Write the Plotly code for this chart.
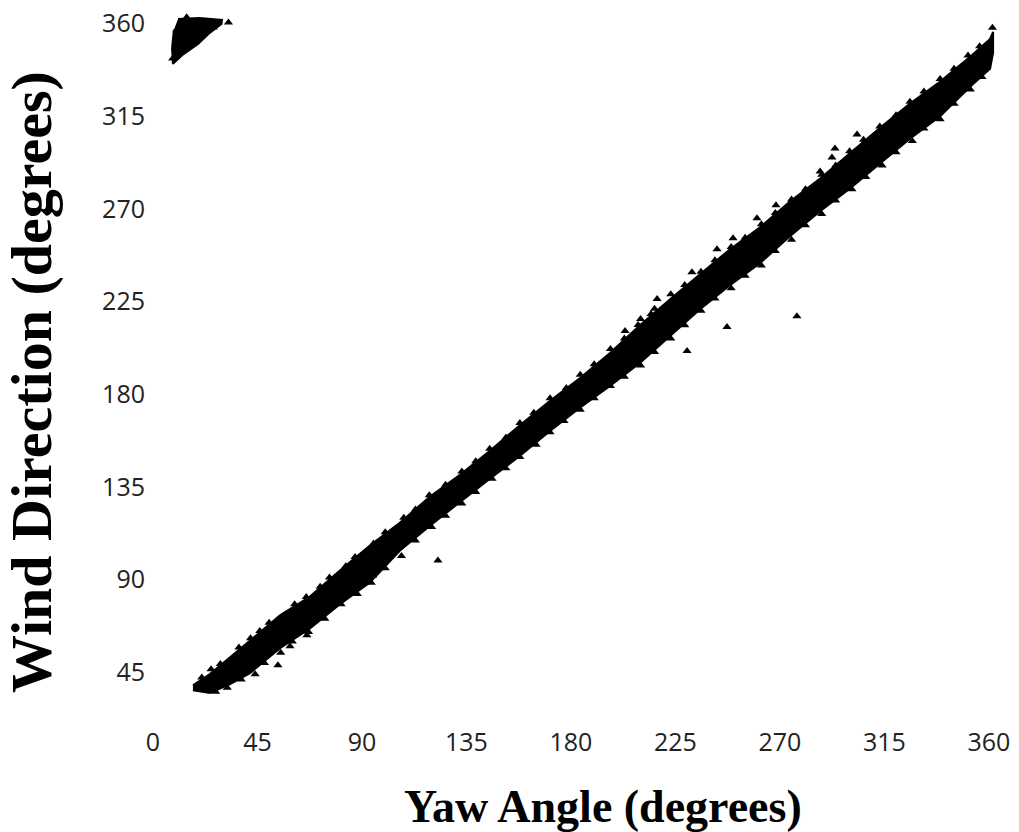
import plotly.graph_objects as go

# Main band of the scatter cloud: upper and lower edges
band_yaw = [17.2, 24.5, 33.2, 41.8, 54.7, 67.6, 80.5, 93.4, 106.4, 119.3, 132.2, 145.1,
            158.1, 171.0, 183.9, 196.8, 209.7, 222.7, 235.6, 248.5, 261.4, 274.3,
            287.3, 300.2, 313.1, 326.0, 338.9, 351.9, 360.5, 361.8]
band_upper = [38.7, 44.1, 52.3, 60.5, 72.6, 81.8, 94.4, 106.5, 117.7, 130.3, 140.9, 152.5,
              165.1, 176.8, 187.9, 200.0, 213.5, 226.1, 238.3, 250.4, 261.0, 273.6,
              284.7, 296.9, 309.4, 321.1, 331.7, 343.8, 352.5, 355.9]
band_lower = [36.3, 34.9, 39.2, 44.6, 56.7, 66.3, 78.0, 88.6, 104.1, 116.2, 127.4, 139.0,
              150.1, 162.2, 173.4, 184.0, 195.2, 208.2, 221.3, 232.9, 243.6, 256.7,
              268.8, 279.9, 292.0, 304.1, 314.8, 329.3, 338.0, 345.8]

# Wrapped cluster near the top-left corner
wrap_yaw = [10.8, 20.0, 29.7, 29.5, 24.0, 19.4, 13.0, 8.6, 8.2, 9.0]
wrap_wind = [362.2, 362.6, 361.7, 359.8, 355.0, 350.1, 345.0, 340.4, 348.0, 357.0]

# Individual points (edge points and outliers)
pt_yaw = [21, 29, 37, 46, 50, 61, 72, 76, 87, 100, 113, 126, 139, 152, 164, 178, 190,
          203, 216, 229, 242, 255, 268, 281, 294, 306, 320, 332, 345, 356,
          27, 38, 48, 60, 74, 88, 100, 113, 126, 139, 152, 165, 177, 190, 203, 216,
          229, 242, 255, 268, 281, 294, 307, 320, 332, 345, 357,
          25, 42, 57, 66, 83, 95, 108, 119, 133, 145, 158, 171, 184, 197, 210, 223,
          236, 249, 262, 275, 288, 300, 313, 326, 339, 351,
          32, 44, 55, 67, 81, 94, 107, 120, 133, 146, 158, 171, 184, 197, 210, 223,
          236, 249, 262, 275, 288, 301, 314, 327, 339, 352,
          217.1, 214.5, 203.3, 208.9, 247.2, 277.3, 230.0, 260.1, 268.3, 249.8, 242.9,
          232.1, 122.7, 53.8, 59.0, 66.3, 98.6, 94.7, 303.2, 293.7, 292.4, 287.3, 361.5,
          32.5, 14.5, 12.0, 8.5, 26.0]
pt_wind = [42.5, 49, 57, 65, 69, 78, 86.5, 91, 101, 113, 124, 136, 147.5, 159, 171, 183,
           194.5, 207, 221.5, 233, 245, 256, 268, 279.5, 291, 303.5, 315.5, 327, 338, 349,
           35.5, 41.5, 49.5, 60, 71, 83, 95.5, 109, 121, 132.5, 144, 155.5, 167, 178,
           188.5, 200.5, 213.5, 226.5, 237.5, 249.5, 262, 274, 285.5, 297.5, 309, 321, 334,
           46.5, 61.5, 73, 81.5, 96.5, 107.5, 120, 131, 142.5, 153.5, 166, 178, 189.5,
           202, 216.5, 228.5, 239.5, 251.5, 262.5, 274.5, 286.5, 298, 310, 322, 333, 344.5,
           37.5, 44, 54.5, 64.5, 78, 88.5, 101.5, 115.5, 127, 139, 149.5, 161.5, 172.5,
           184, 194, 207, 220.5, 231.5, 242.5, 255, 267.5, 279.5, 291, 303, 313.5, 328,
           226.2, 218.9, 210.7, 213.6, 212.6, 217.9, 201.0, 265.4, 271.7, 255.7, 250.4,
           239.2, 99.3, 48.4, 57.6, 63.0, 109.0, 92.0, 306.1, 299.3, 294.9, 288.1, 357.9,
           360.5, 363.0, 347.5, 343.0, 358.0]

x_ticks = [0, 45, 90, 135, 180, 225, 270, 315, 360]
y_ticks = [45, 90, 135, 180, 225, 270, 315, 360]

fig = go.Figure()
fig.add_trace(go.Scatter(
    x=band_yaw + band_yaw[::-1], y=band_upper + band_lower[::-1],
    mode="lines", fill="toself", fillcolor="black",
    line=dict(color="black", width=2), hoverinfo="skip", showlegend=False))
fig.add_trace(go.Scatter(
    x=wrap_yaw, y=wrap_wind, mode="lines", fill="toself", fillcolor="black",
    line=dict(color="black", width=2), hoverinfo="skip", showlegend=False))
fig.add_trace(go.Scatter(
    x=pt_yaw, y=pt_wind, mode="markers",
    marker=dict(symbol="triangle-up", size=8, color="black"),
    showlegend=False))

tick_font = dict(family="Open Sans", size=25, color="#222222")
fig.update_layout(
    width=1019, height=832,
    margin=dict(l=150, r=9, t=5, b=107),
    paper_bgcolor="white", plot_bgcolor="white",
    xaxis=dict(range=[-1.29, 369.08], tickvals=x_ticks, ticktext=[str(v) for v in x_ticks],
               showgrid=False, zeroline=False, showline=False, ticks="",
               tickfont=tick_font),
    yaxis=dict(range=[19.4, 368.0], tickvals=y_ticks, ticktext=[str(v) for v in y_ticks],
               showgrid=False, zeroline=False, showline=False, ticks="",
               tickfont=tick_font, ticklabelstandoff=4),
    annotations=[
        dict(text="<b>Yaw Angle (degrees)</b>", xref="paper", yref="paper",
             x=(603 - 150) / 860, y=(725 - 807) / 720, xanchor="center", yanchor="middle",
             showarrow=False, font=dict(family="Liberation Serif", size=46, color="black")),
        dict(text="<b>Wind Direction (degrees)</b>", xref="paper", yref="paper",
             x=(32 - 150) / 860, y=(725 - 381) / 720, xanchor="center", yanchor="middle",
             textangle=-90, showarrow=False,
             font=dict(family="Liberation Serif", size=58, color="black")),
    ],
)
fig.write_html("out.html")
